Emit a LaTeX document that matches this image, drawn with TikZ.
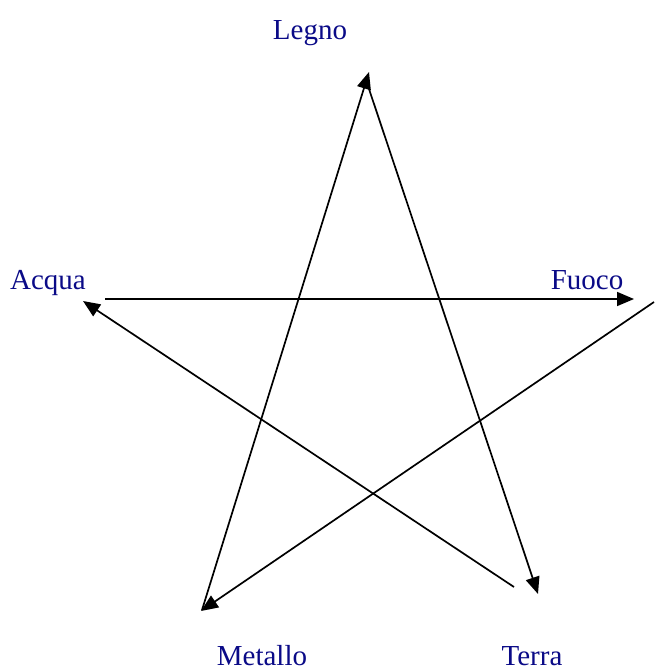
\documentclass[tikz,border=0pt]{standalone}
\usepackage{fontspec}
\setmainfont{Liberation Serif}
\usetikzlibrary{arrows.meta}
\definecolor{lbl}{RGB}{10,10,135}
\begin{document}
\begin{tikzpicture}[x=1pt,y=-1pt,
  lab/.style={text=lbl,font=\fontsize{29}{32}\selectfont,inner sep=0pt,anchor=base},
  conn/.style={line width=1.7pt,-{Triangle[length=17pt,width=14pt]}}]
\useasboundingbox (0,0) rectangle (654,670);
\node[lab] (legno) at (310,39) {Legno};
\node[lab] (acqua) at (48,289) {Acqua};
\node[lab] (fuoco) at (587,289) {Fuoco};
\node[lab] (metallo) at (262,665) {Metallo};
\node[lab] (terra) at (532,665) {Terra};
\coordinate (m0) at (202,610);
\coordinate (l1) at (369,72);
\coordinate (l0) at (369,89);
\coordinate (t1) at (538,594);
\coordinate (t0) at (514,587);
\coordinate (a1) at (83,301);
\coordinate (a0) at (105,299);
\coordinate (f1) at (634,299);
\coordinate (f0) at (654,302);
\coordinate (m1) at (201,611);
\draw[conn] (m0) -- (l1);
\draw[conn] (l0) -- (t1);
\draw[conn] (t0) -- (a1);
\draw[conn] (a0) -- (f1);
\draw[conn] (f0) -- (m1);
\end{tikzpicture}
\end{document}
